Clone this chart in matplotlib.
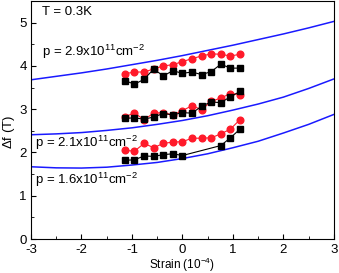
import numpy as np
import matplotlib
matplotlib.use("Agg")
import matplotlib.pyplot as plt
from matplotlib.ticker import MultipleLocator

plt.rcParams['font.family'] = ['Liberation Sans', 'DejaVu Sans']
plt.rcParams['mathtext.default'] = 'regular'
plt.rcParams['axes.unicode_minus'] = False

# strain values of the measured points (10^-4)
strain = [-1.14, -0.95, -0.76, -0.57, -0.38, -0.19, 0.0, 0.19, 0.38, 0.57, 0.76, 0.95, 1.14]

# p = 2.9e11
top_red = [3.82, 3.86, 3.86, 3.93, 4.00, 4.03, 4.10, 4.17, 4.23, 4.28, 4.27, 4.23, 4.27]
top_black = [3.66, 3.58, 3.69, 3.93, 3.77, 3.89, 3.83, 3.86, 3.80, 3.87, 4.04, 3.95, 3.95]

# p = 2.1e11
mid_red = [2.83, 2.91, 2.76, 2.91, 2.92, 2.87, 2.97, 3.08, 2.99, 3.18, 3.26, 3.36, 3.34]
mid_black = [2.79, 2.80, 2.77, 2.82, 2.90, 2.87, 2.92, 2.91, 3.07, 3.17, 3.15, 3.29, 3.41]

# p = 1.6e11
low_red = [2.05, 2.03, 2.21, 2.11, 2.21, 2.24, 2.25, 2.33, 2.33, 2.34, 2.43, 2.54, 2.76]
low_strain_black = [-1.14, -0.95, -0.76, -0.57, -0.38, -0.19, 0.0, 0.76, 0.95, 1.14]
low_black = [1.82, 1.83, 1.92, 1.91, 1.95, 1.97, 1.93, 2.16, 2.34, 2.54]

# calculated curves (blue)
curve_x = [-3.0, -2.5, -2.0, -1.5, -1.0, -0.5, 0.0, 0.5, 1.0, 1.5, 2.0, 2.5, 3.0]
curve_top = [3.68, 3.76, 3.84, 3.93, 4.03, 4.13, 4.24, 4.36, 4.48, 4.61, 4.74, 4.88, 5.03]
curve_mid = [2.41, 2.43, 2.46, 2.51, 2.57, 2.65, 2.74, 2.85, 2.98, 3.12, 3.28, 3.48, 3.70]
curve_low = [1.67, 1.645, 1.64, 1.66, 1.71, 1.77, 1.86, 1.97, 2.11, 2.26, 2.45, 2.65, 2.88]

fig = plt.figure(figsize=(3.39, 2.73), dpi=100)
ax = fig.add_axes([0.0914, 0.1245, 0.8936, 0.8716])

for c in [curve_top, curve_mid, curve_low]:
    ax.plot(curve_x, c, color='#1a1aff', lw=1.1)

for s, r in [(strain, top_red), (strain, mid_red), (strain, low_red)]:
    ax.plot(s, r, color='#ff1a2a', lw=0.8, marker='o', ms=4.8, mec='#ff1a2a', mfc='#ff1a2a')
for s, b in [(strain, top_black), (strain, mid_black), (low_strain_black, low_black)]:
    ax.plot(s, b, color='black', lw=0.8, marker='s', ms=4.4)

fs = 9.5
ax.text(-2.78, 5.17, 'T = 0.3K', fontsize=fs)
ax.text(-2.78, 4.22, 'p = 2.9x10$^{11}$cm$^{-2}$', fontsize=fs)
ax.text(-2.92, 2.12, 'p = 2.1x10$^{11}$cm$^{-2}$', fontsize=fs)
ax.text(-2.92, 1.27, 'p = 1.6x10$^{11}$cm$^{-2}$', fontsize=fs)

ax.set_xlim(-3, 3)
ax.set_ylim(0, 5.5)
ax.xaxis.set_major_locator(MultipleLocator(1))
ax.xaxis.set_minor_locator(MultipleLocator(0.5))
ax.yaxis.set_major_locator(MultipleLocator(1))
ax.yaxis.set_minor_locator(MultipleLocator(0.5))
ax.tick_params(which='both', direction='in', top=False, right=False, labelsize=fs)
ax.tick_params(which='major', length=3.5)
ax.tick_params(which='minor', length=2)
ax.tick_params(axis='x', which='major', pad=3.5)
ax.tick_params(axis='y', which='major', pad=3)
ax.set_xlabel('Strain (10$^{-4}$)', fontsize=8.5)
ax.xaxis.set_label_coords(0.5, -0.07)
ax.set_ylabel('$\\Delta$f (T)', fontsize=9.5)
ax.yaxis.set_label_coords(-0.045, 0.45)

fig.savefig('out.png', dpi=100)
